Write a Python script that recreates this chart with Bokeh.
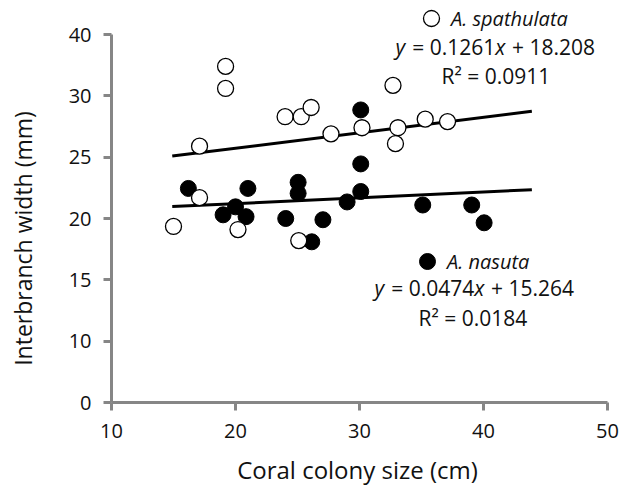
import numpy as np
from bokeh.plotting import figure
from bokeh.models import FixedTicker, Label, Legend, LegendItem
from bokeh.core.properties import value
from bokeh.embed import file_html
from bokeh.resources import INLINE

# ---------------- data ----------------
spath_x = [15.0, 17.1, 20.2, 25.1, 19.2, 19.2, 17.1, 24.0, 25.3, 26.1, 27.7, 30.2, 32.7, 33.1, 32.9, 35.3, 37.1]
spath_y = [14.35, 16.7, 14.1, 13.2, 27.4, 25.6, 20.9, 23.3, 23.3, 24.05, 21.9, 22.4, 25.85, 22.4, 21.1, 23.1, 22.9]

nasuta_x = [16.2, 21.0, 20.0, 19.0, 20.85, 25.05, 25.05, 24.05, 26.15, 27.05, 29.0, 30.1, 30.1, 30.1, 35.1, 39.05, 40.05]
nasuta_y = [17.45, 17.45, 15.95, 15.3, 15.15, 17.95, 17.05, 15.0, 13.1, 14.9, 16.35, 17.2, 19.45, 23.85, 16.1, 16.1, 14.65]

series_names = ["A. spathulata", "A. nasuta"]
slopes = [0.1261, 0.0474]
intercepts = [18.208, 15.264]
r2_values = ["0.0911", "0.0184"]
trend_x = [14.9, 43.9]

x_ticks = [10, 20, 30, 40, 50]
y_ticks = [0, 5, 10, 15, 20, 25, 30]
y_tick_labels = ["0", "10", "15", "20", "25", "30", "40"]
x_title = "Coral colony size (cm)"
y_title = "Interbranch width (mm)"

# ---------------- layout ----------------
W, H = 624, 485
AX_L, AX_R, AX_B, AX_T = 111, 607, 402, 34   # pixel positions of the axis ends
X0, X1, Y0, Y1 = 10, 50, 0, 30
PXX = (AX_R - AX_L) / (X1 - X0)   # px per x unit
PXY = (AX_B - AX_T) / (Y1 - Y0)   # px per y unit
# the frame covers the whole canvas; the axes sit at fixed places inside it
X_LO = X0 - AX_L / PXX
X_HI = X1 + (W - AX_R) / PXX
Y_LO = Y0 - (H - AX_B) / PXY
Y_HI = Y1 + AX_T / PXY
FONT = "Open Sans"
GRAY = "#868686"
TXT = "#111111"
BASE_SHIFT = 8   # svg text sits this many px lower than its anchor


def px2x(px):
    return X0 + (px - AX_L) / PXX


def py2y(py):
    return Y0 + (AX_B - py) / PXY


p = figure(width=W, height=H, x_range=(X_LO, X_HI), y_range=(Y_LO, Y_HI),
           output_backend="svg", toolbar_location=None,
           min_border_left=0, min_border_right=0,
           min_border_top=0, min_border_bottom=0)
p.outline_line_color = None
p.grid.visible = False
p.background_fill_color = "white"
p.border_fill_color = "white"

for ax in (p.xaxis[0], p.yaxis[0]):
    ax.axis_line_color = GRAY
    ax.axis_line_width = 3
    ax.major_tick_line_color = GRAY
    ax.major_tick_line_width = 3
    ax.major_tick_in = 0
    ax.major_tick_out = 8
    ax.minor_tick_line_color = None
    ax.major_label_text_font = FONT
    ax.major_label_text_font_size = "20px"
    ax.major_label_text_color = TXT

p.xaxis.ticker = FixedTicker(ticks=x_ticks)
p.xaxis.bounds = (X0, X1)
p.xaxis.fixed_location = Y0
p.xaxis.major_label_standoff = 13

p.yaxis.ticker = FixedTicker(ticks=y_ticks)
p.yaxis.bounds = (Y0, Y1)
p.yaxis.fixed_location = X0
p.yaxis.major_label_overrides = {t: lab for t, lab in zip(y_ticks, y_tick_labels)}
p.yaxis.major_label_standoff = 12

# axis titles
p.add_layout(Label(x=px2x(357), y=py2y(477 - BASE_SHIFT), text=x_title,
                   text_align="center", text_baseline="alphabetic",
                   text_font=FONT, text_font_size="24px", text_color=TXT))
p.add_layout(Label(x=px2x(22), y=py2y(238), text=y_title,
                   angle=np.pi / 2, text_align="center", text_baseline="middle",
                   text_font=FONT, text_font_size="23px", text_color=TXT))

# trend lines (under points)
tx = np.array(trend_x)
for m, b in zip(slopes, intercepts):
    p.line(tx, m * tx + b, line_color="black", line_width=3)

r_fill = p.scatter(nasuta_x, nasuta_y, size=16, marker="circle",
                   fill_color="black", line_color="black", line_width=1)
r_open = p.scatter(spath_x, spath_y, size=16, marker="circle",
                   fill_color="white", line_color="black", line_width=1.3)

# legends (marker + italic name); location is in px from the frame's bottom-left
for rend, name, (cx, cy) in zip([r_open, r_fill], series_names, [(431, 18), (427, 261)]):
    leg = Legend(items=[LegendItem(label=value(name), renderers=[rend])],
                 location=(cx - 20, H - cy - 20),
                 glyph_width=40, glyph_height=40, label_standoff=0,
                 padding=0, margin=0, spacing=0,
                 border_line_color=None, background_fill_alpha=0,
                 label_text_font=FONT, label_text_font_style="italic",
                 label_text_font_size="20px", label_text_color=TXT)
    p.add_layout(leg)

# equation texts, built from pieces so that y and x are italic
FS = 21.0
EM = {"digit": 0.572, "space": 0.26, "op": 0.572, ".": 0.266, "xy": 0.535}


def str_width(s):
    w = 0.0
    for ch in s:
        if ch.isdigit():
            w += EM["digit"]
        elif ch == " ":
            w += EM["space"]
        elif ch in "=+":
            w += EM["op"]
        elif ch == ".":
            w += EM["."]
        else:
            w += EM["xy"]
    return w * FS


def add_text(px, py, txt, style="normal"):
    p.add_layout(Label(x=px2x(px), y=py2y(py - BASE_SHIFT), text=txt, text_align="left",
                       text_baseline="alphabetic", text_font=FONT,
                       text_font_size=f"{FS:.0f}px", text_font_style=style,
                       text_color=TXT))


eq_pos = [(395, 54, 441, 83), (374, 295, 418, 325)]
for m, b, r2, (ex, ey, rx, ry) in zip(slopes, intercepts, r2_values, eq_pos):
    pieces = [("y", "italic", " "), (f"= {m:.4f}", "normal", ""),
              ("x", "italic", " "), (f"+ {b:.3f}", "normal", "")]
    cur = ex
    for txt, st, gap in pieces:
        add_text(cur, ey, txt, st)
        cur += str_width(txt + gap)
    add_text(rx, ry, f"R\u00b2 = {r2}")

open("out.html", "w").write(file_html(p, INLINE))
